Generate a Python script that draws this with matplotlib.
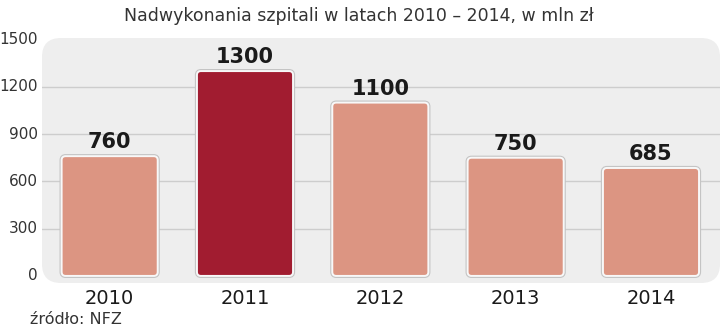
import matplotlib.pyplot as plt
from matplotlib.patches import FancyBboxPatch

years = ['2010', '2011', '2012', '2013', '2014']
values = [760, 1300, 1100, 750, 685]
yticks = [0, 300, 600, 900, 1200, 1500]
highlight = 1

fig = plt.figure(figsize=(7.2, 3.35), dpi=100)
fig.patch.set_facecolor('white')
# axes placed to fit the grey panel
ax = fig.add_axes([42/720, 1 - 283/335, 678/720, 245/335])
ax.set_xlim(-0.5, 4.51)
ax.set_ylim(-45, 1510)
ax.axis('off')

# grey rounded panel
bg = FancyBboxPatch((0, 0), 1, 1, boxstyle='round,pad=0,rounding_size=0.028',
                    mutation_aspect=678/245, transform=ax.transAxes,
                    facecolor='#eeeeee', edgecolor='none', zorder=0, clip_on=False)
ax.add_patch(bg)

# grid lines
for t in yticks[1:-1]:
    ax.axhline(t, color='#cdcdcd', lw=1, zorder=1)

# y tick labels
for t in yticks:
    ax.text(-0.53, t, str(t), ha='right', va='center', fontsize=11,
            color='#333333')

xpp = 5 / 676
ypp = 1555 / 245
bars = ax.bar(range(len(years)), values, width=0.71)
for i, r in enumerate(bars):
    r.set_visible(False)
    col = '#a11c30' if i == highlight else '#dc9582'
    box = 'round,pad=0,rounding_size=%f' % (4 * xpp)
    # soft grey outline, then white rim
    ax.add_patch(FancyBboxPatch((r.get_x(), 0), r.get_width(), r.get_height(),
                                boxstyle=box, mutation_aspect=ypp / xpp,
                                facecolor='none', edgecolor='#c4c4c4', lw=3, zorder=2))
    ax.add_patch(FancyBboxPatch((r.get_x(), 0), r.get_width(), r.get_height(),
                                boxstyle=box, mutation_aspect=ypp / xpp,
                                facecolor=col, edgecolor='#f8f8f8', lw=1.4, zorder=3))
    ax.text(i, values[i] + 25, str(values[i]), ha='center', va='bottom',
            fontsize=15, fontweight='bold', color='#1a1a1a', zorder=4)
    ax.text(i, -80, years[i], ha='center', va='top', fontsize=14,
            color='#1a1a1a', zorder=4)

fig.text(124/720, 1 - 16/335, 'Nadwykonania szpitali w latach 2010 \u2013 2014, w mln zł',
         ha='left', va='center', fontsize=12.5, color='#333333')
fig.text(30/720, 1 - 320/335, 'źródło: NFZ', ha='left', va='center',
         fontsize=11.5, color='#333333')

fig.savefig('out.png', dpi=100)
